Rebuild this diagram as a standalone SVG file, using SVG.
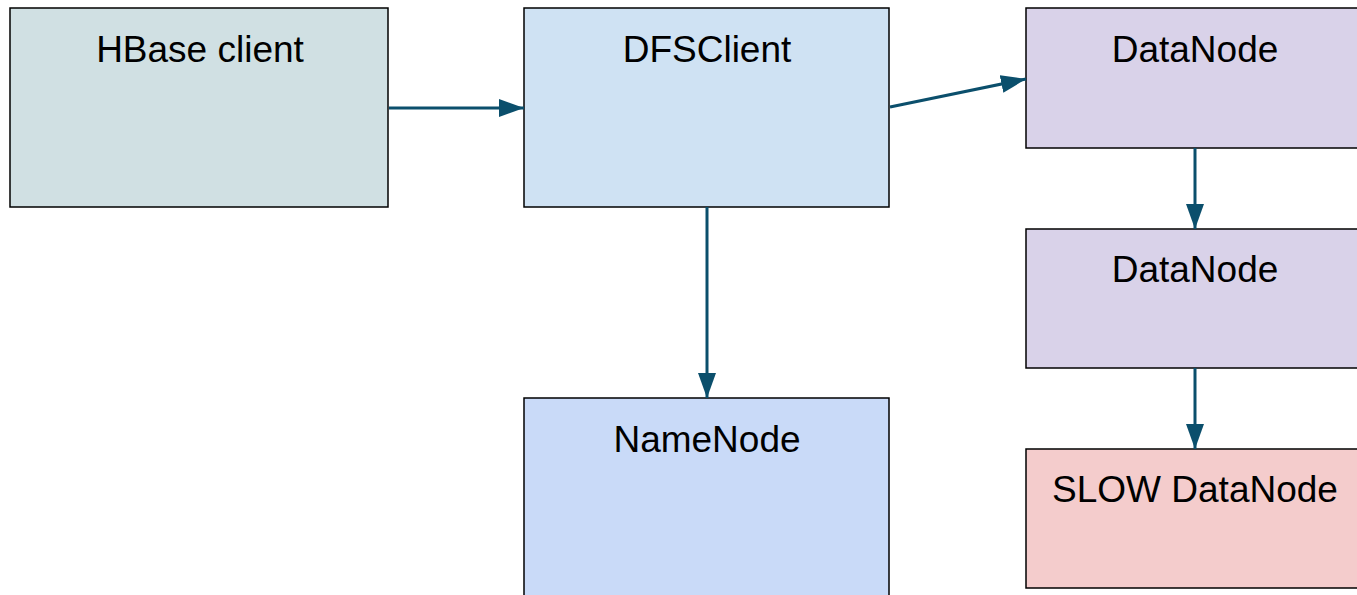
<svg xmlns="http://www.w3.org/2000/svg" width="1357" height="595" viewBox="0 0 1357 595">
<style>
.box{stroke:#000;stroke-width:1.5}
.lbl{font-family:"Liberation Sans",Arial,sans-serif;font-size:37px;fill:#000;text-anchor:middle}
.conn{stroke:#0b4f6c;stroke-width:3;fill:none;marker-end:url(#ah)}
</style>
<defs>
<marker id="ah" markerUnits="userSpaceOnUse" markerWidth="26" markerHeight="20" refX="25" refY="10" orient="auto">
<path d="M0,1 L25,10 L0,19 Z" fill="#0b4f6c"/>
</marker>
</defs>
<rect width="1357" height="595" fill="#fff"/>
<g id="hbase-client"><rect class="box" x="10" y="8" width="378" height="199" fill="#d0e0e3"/><text class="lbl" x="200" y="62">HBase client</text></g>
<g id="dfsclient"><rect class="box" x="524" y="8" width="365" height="199" fill="#cfe2f3"/><text class="lbl" x="707" y="62">DFSClient</text></g>
<g id="datanode1"><rect class="box" x="1026" y="8" width="340" height="140" fill="#d9d2e9"/><text class="lbl" x="1195" y="62">DataNode</text></g>
<g id="datanode2"><rect class="box" x="1026" y="229" width="340" height="139" fill="#d9d2e9"/><text class="lbl" x="1195" y="282">DataNode</text></g>
<g id="slow-datanode"><rect class="box" x="1026" y="449" width="340" height="139" fill="#f4cccc"/><text class="lbl" x="1195" y="502">SLOW DataNode</text></g>
<g id="namenode"><rect class="box" x="524" y="398" width="365" height="210" fill="#c9daf8"/><text class="lbl" x="707" y="452">NameNode</text></g>
<g id="connectors">
<line class="conn" x1="389" y1="108" x2="524" y2="108"/>
<line class="conn" x1="890" y1="107" x2="1026" y2="79"/>
<line class="conn" x1="707" y1="207" x2="707" y2="398"/>
<line class="conn" x1="1195" y1="148" x2="1195" y2="229"/>
<line class="conn" x1="1195" y1="368" x2="1195" y2="449"/>
</g>
</svg>
